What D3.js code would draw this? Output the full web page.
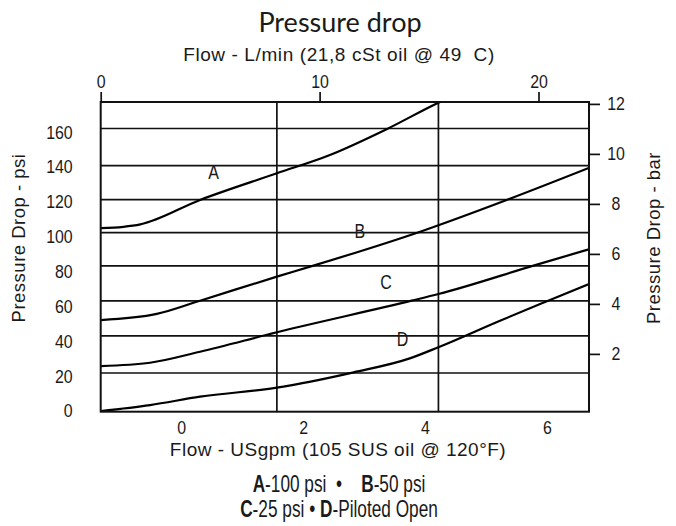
<!DOCTYPE html>
<html><head><meta charset="utf-8">
<script src="https://cdn.jsdelivr.net/npm/d3@7"></script>
<style>
body{margin:0;background:#fff}
text{fill:#1a1a1a}
</style>
</head><body>
<svg id="c" width="676" height="526"></svg>
<script>
// ---------- data ----------
const titleText = "Pressure drop";
const topAxisTitle = "Flow - L/min (21,8 cSt oil @ 49  C)";
const bottomAxisTitle = "Flow - USgpm (105 SUS oil @ 120°F)";
const leftAxisTitle = "Pressure Drop - psi";
const rightAxisTitle = "Pressure Drop - bar";

const gpmDomain = [-1.32, 6.69];       // bottom axis extent (USgpm)
const psiDomain = [-0.4, 177.3];       // left axis extent (psi)
const lminDomain = [0, 20];            // top axis (L/min)
const barDomain = [0, 12];             // right axis (bar)

const gpmTicks = [0, 2, 4, 6];
const lminTicks = [0, 10, 20];
const psiTicks = [0, 20, 40, 60, 80, 100, 120, 140, 160];
const barTicks = [2, 4, 6, 8, 10, 12];

const gridPsi = [21.8, 43.1, 63.2, 83.3, 102.3, 121.3, 140.8, 162.1];
const gridGpm = [1.57, 4.22];

const curveA = [[-1.32,104.9],[-0.95,105.7],[-0.67,107.1],[0.31,121.1],[1.57,136.4],[2.44,146.9],[3.37,161.7],[4.22,176.9],[4.35,179]];
const curveB = [[-1.32,52.2],[-0.4,55.7],[0.31,63.3],[1.57,77.1],[2.17,83.4],[3.92,102.9],[5.34,121.1],[6.69,139.5]];
const curveC = [[-1.32,25.8],[-0.51,27.7],[0.31,34.0],[1.57,45.2],[3.78,63.3],[4.22,67.1],[5.78,83.4],[6.69,92.8]];
const curveD = [[-1.32,0],[-0.51,3.4],[0.31,8.2],[1.57,13.4],[2.83,22.2],[3.75,30.2],[4.22,36.6],[5.23,51.8],[6.05,63.7],[6.69,72.9]];
const seriesNames = ["A", "B", "C", "D"];
const seriesLabelPos = [[0.53,137.2],[2.93,103.3],[3.36,73.9],[3.63,41.3]];

const legendLines = [
  [["A", true], ["-100 psi  •    ", false], ["B", true], ["-50 psi", false]],
  [["C", true], ["-25 psi • ", false], ["D", true], ["-Piloted Open", false]]
];

// ---------- drawing ----------
const svg = d3.select("#c");
const L = 100.7, R = 589, T = 102, B = 411.7;
const x = d3.scaleLinear().domain(gpmDomain).range([L, R]);
const y = d3.scaleLinear().domain(psiDomain).range([B, T]);
const xTop = d3.scaleLinear().domain(lminDomain).range([L, 538.5]);
const yBar = d3.scaleLinear().domain(barDomain).range([403.9, 103.9]);

const baseFont = "'Liberation Sans',Arial,sans-serif";

function condense(sel, f) {
  sel.each(function () {
    const w = this.getComputedTextLength();
    d3.select(this).attr("textLength", w * f).attr("lengthAdjust", "spacingAndGlyphs");
  });
}

// title
svg.append("text").attr("x", 340).attr("y", 32).attr("text-anchor", "middle")
  .style("font-family", "Lato,'Open Sans',sans-serif").style("font-size", "27px")
  .text(titleText);
svg.append("text").attr("x", 339).attr("y", 60.5).attr("text-anchor", "middle")
  .style("font-family", baseFont).style("font-size", "19px").style("letter-spacing", "0.6px")
  .style("white-space", "pre").text(topAxisTitle);

// grid
const grid = svg.append("g").attr("stroke", "#111").attr("stroke-width", 1.7);
grid.selectAll("line.h").data(gridPsi).join("line").attr("class", "h")
  .attr("x1", L).attr("x2", R).attr("y1", d => y(d)).attr("y2", d => y(d));
grid.selectAll("line.v").data(gridGpm).join("line").attr("class", "v")
  .attr("y1", T).attr("y2", B).attr("x1", d => x(d)).attr("x2", d => x(d));

// clip
svg.append("clipPath").attr("id", "clip").append("rect")
  .attr("x", L).attr("y", T).attr("width", R - L).attr("height", B - T);

// curves
const line = d3.line().x(d => x(d[0])).y(d => y(d[1])).curve(d3.curveMonotoneX);
const curves = [curveA, curveB, curveC, curveD];
svg.append("g").attr("clip-path", "url(#clip)")
  .selectAll("path").data(curves).join("path")
  .attr("d", line).attr("fill", "none").attr("stroke", "#000").attr("stroke-width", 2.2);

// frame
svg.append("rect").attr("x", L).attr("y", T).attr("width", R - L).attr("height", B - T)
  .attr("fill", "none").attr("stroke", "#111").attr("stroke-width", 2);

// series labels
svg.selectAll("text.sl").data(seriesNames).join("text").attr("class", "sl")
  .attr("x", (d, i) => x(seriesLabelPos[i][0])).attr("y", (d, i) => y(seriesLabelPos[i][1]))
  .attr("dy", "0.36em").attr("text-anchor", "middle")
  .style("font-family", baseFont).style("font-size", "20px").text(d => d)
  .call(condense, 0.8);

function styleAxis(g) {
  g.select(".domain").remove();
  g.selectAll("text").style("font-family", baseFont).style("font-size", "18.5px").attr("fill", "#1a1a1a");
  g.selectAll("line").attr("stroke", "#111").attr("stroke-width", 1.7);
}

// left axis
const leftG = svg.append("g").attr("transform", `translate(${L},0)`)
  .call(d3.axisLeft(d3.scaleLinear().domain([0,160]).range([y(0), y(160)])).tickValues(psiTicks).tickSize(0).tickPadding(28).tickFormat(d3.format("d")))
  .call(styleAxis);
condense(leftG.selectAll("text"), 0.86);

// bottom axis
const botG = svg.append("g").attr("transform", `translate(0,${B})`)
  .call(d3.axisBottom(x).tickValues(gpmTicks).tickSize(0).tickPadding(9).tickFormat(d3.format("d")))
  .call(styleAxis);
condense(botG.selectAll("text"), 0.86);

// top axis
const topG = svg.append("g").attr("transform", `translate(0,${T})`)
  .call(d3.axisTop(xTop).tickValues(lminTicks).tickSize(10).tickPadding(4).tickFormat(d3.format("d")))
  .call(styleAxis);
condense(topG.selectAll("text"), 0.86);

// right axis
const rightG = svg.append("g").attr("transform", `translate(${R},0)`)
  .call(d3.axisRight(yBar).tickValues(barTicks).tickSize(11).tickFormat(d3.format("d")))
  .call(styleAxis);
rightG.selectAll("text").attr("x", 27).attr("text-anchor", "middle");
condense(rightG.selectAll("text"), 0.86);

// axis titles
svg.append("text").attr("x", 338).attr("y", 456).attr("text-anchor", "middle")
  .style("font-family", baseFont).style("font-size", "19px").style("letter-spacing", "0.5px")
  .text(bottomAxisTitle);
svg.append("text").attr("transform", "translate(25,238) rotate(-90)").attr("text-anchor", "middle")
  .style("font-family", baseFont).style("font-size", "18.5px").style("letter-spacing", "0.5px")
  .text(leftAxisTitle);
svg.append("text").attr("transform", "translate(660,238) rotate(-90)").attr("text-anchor", "middle")
  .style("font-family", baseFont).style("font-size", "18.5px").style("letter-spacing", "0.5px")
  .text(rightAxisTitle);

// legend: one text per line, horizontally condensed through a group transform
const legendY = [491.5, 516.5];
legendLines.forEach((parts, i) => {
  const g = svg.append("g").attr("transform", `translate(339,${legendY[i]}) scale(0.75,1)`);
  const t = g.append("text").attr("x", 0).attr("y", 0).attr("text-anchor", "middle")
    .style("font-family", baseFont).style("font-size", "23px").style("white-space", "pre");
  parts.forEach(p => t.append("tspan").style("font-weight", p[1] ? "bold" : "normal").text(p[0]));
});
</script>
</body></html>
